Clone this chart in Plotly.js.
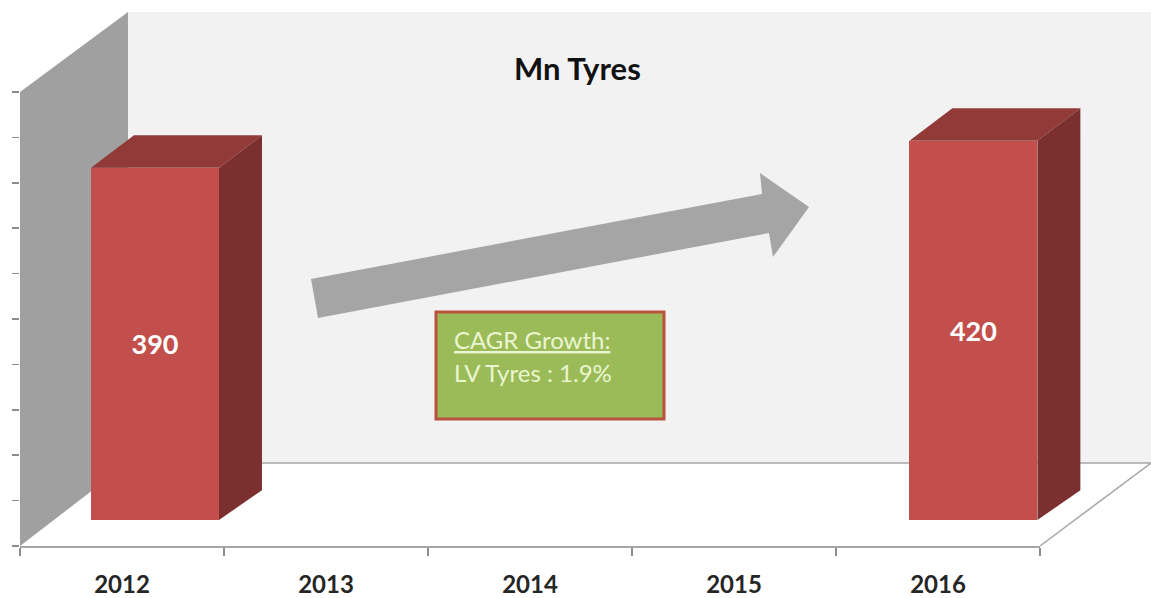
<!DOCTYPE html>
<html>
<head>
<meta charset="utf-8">
<script src="https://cdn.plot.ly/plotly-3.0.1.min.js"></script>
<style>html,body{margin:0;padding:0;background:#fff}#chart{width:1151px;height:598px}</style>
</head>
<body>
<div id="chart"></div>
<script>
const years = ['2012','2013','2014','2015','2016'];
const barIndex = [0,1,2,3,4];
const tyres = [390,null,null,null,420];
const yTicks = [0,50,100,150,200,250,300,350,400,450,500];

const W = 1151, H = 598;
const px = x => x / W;
const py = y => 1 - y / H;
const poly = pts => ({
  type:'path', xref:'paper', yref:'paper', layer:'below',
  path:'M' + pts.map(p => px(p[0]) + ',' + py(p[1])).join(' L') + ' Z'
});

const halfW = 0.3128, depthX = 0.21, depthTop = 36, depthBase = 33;
const faces = [];
tyres.forEach((v,i) => {
  if (v === null) return;
  const l = barIndex[i] - halfW, r = barIndex[i] + halfW;
  faces.push({type:'scatter', xaxis:'x2', yaxis:'y2', mode:'lines', fill:'toself',
    x:[l, l+depthX, r+depthX, r, l], y:[v, v+depthTop, v+depthTop, v, v],
    fillcolor:'#913a38', line:{width:0}, hoverinfo:'skip', showlegend:false});
  faces.push({type:'scatter', xaxis:'x2', yaxis:'y2', mode:'lines', fill:'toself',
    x:[r, r+depthX, r+depthX, r, r], y:[0, depthBase, v+depthTop, v, 0],
    fillcolor:'#7c2f2f', line:{width:0}, hoverinfo:'skip', showlegend:false});
});

const data = [
  {type:'scatter', x:years, y:years.map(() => 0), mode:'lines', line:{width:0},
   hoverinfo:'skip', showlegend:false},
  {type:'bar', xaxis:'x2', yaxis:'y2', x:barIndex, y:tyres, width:2*halfW,
   marker:{color:'#c24f4b', line:{width:0}},
   text:tyres.map(v => v === null ? '' : String(v)), textposition:'inside',
   insidetextanchor:'middle', constraintext:'none', textangle:0,
   textfont:{family:'Lato, sans-serif', size:27, color:'#ffffff', weight:700},
   hoverinfo:'skip', showlegend:false},
  ...faces
];

const wallBack = Object.assign(poly([[128,12],[1151,12],[1151,463],[128,463]]),
  {fillcolor:'#f2f2f2', line:{width:0}});
const wallLeft = Object.assign(poly([[20,92],[128,12],[128,463],[20,546]]),
  {fillcolor:'#a0a0a0', line:{width:0}});
const floorLine = Object.assign({
  type:'path', xref:'paper', yref:'paper', layer:'below',
  path:'M'+px(128)+','+py(463)+' L'+px(1151)+','+py(463)+' L'+px(1040)+','+py(546)
}, {fillcolor:'rgba(0,0,0,0)', line:{color:'#a6a6a6', width:1.5}});
const arrow = Object.assign(poly([[311,279],[762,194],[760,173],[809,207],[773,257],[769,233],[318,318]]),
  {fillcolor:'#a5a5a5', line:{width:0}, layer:'above'});
const box = {type:'rect', xref:'paper', yref:'paper', layer:'above',
  x0:px(436), x1:px(664), y0:py(419), y1:py(312),
  fillcolor:'#9bbb59', line:{color:'#b9533f', width:3}};

const layout = {
  width:W, height:H, margin:{l:0,r:0,t:0,b:0},
  paper_bgcolor:'#ffffff', plot_bgcolor:'rgba(0,0,0,0)',
  font:{family:'Lato, sans-serif', color:'#262626'},
  bargap:0, showlegend:false,
  xaxis:{type:'category', domain:[px(20),px(1040)], range:[-0.5,4.5], anchor:'y',
    tickson:'boundaries', ticks:'outside', ticklen:8, tickwidth:1.5, tickcolor:'#8c8c8c',
    showline:true, linecolor:'#a6a6a6', linewidth:1.5, showgrid:false, zeroline:false,
    ticklabelstandoff:17, tickfont:{family:'Lato, sans-serif', size:24, color:'#262626', weight:700}},
  yaxis:{domain:[py(546),py(92)], range:[0,500], anchor:'x', tickmode:'array', tickvals:yTicks,
    ticks:'outside', ticklen:7, tickwidth:1.5, tickcolor:'#8c8c8c',
    showticklabels:false, showline:false, showgrid:false, zeroline:false},
  xaxis2:{domain:[px(52.7),1], range:[-0.5,4.868], anchor:'y2', visible:false, fixedrange:true},
  yaxis2:{domain:[py(520),py(68.5)], range:[0,500], anchor:'x2', visible:false, fixedrange:true},
  shapes:[wallBack, wallLeft, floorLine, arrow, box],
  annotations:[
    {xref:'paper', yref:'paper', x:px(577), y:py(68), xanchor:'center', yanchor:'middle', text:'Mn Tyres', showarrow:false,
     font:{family:'Lato, sans-serif', size:31, color:'#111111', weight:700}},
    {xref:'paper', yref:'paper', x:px(452), y:py(339), xanchor:'left', yanchor:'middle', text:'<u>CAGR Growth:</u>',
     showarrow:false, font:{family:'Lato, sans-serif', size:24, color:'#eaf6cf'}},
    {xref:'paper', yref:'paper', x:px(452), y:py(372), xanchor:'left', yanchor:'middle', text:'LV Tyres : 1.9%',
     showarrow:false, font:{family:'Lato, sans-serif', size:24, color:'#eaf6cf'}}
  ]
};
Plotly.newPlot('chart', data, layout, {displayModeBar:false, staticPlot:true});
</script>
</body>
</html>
